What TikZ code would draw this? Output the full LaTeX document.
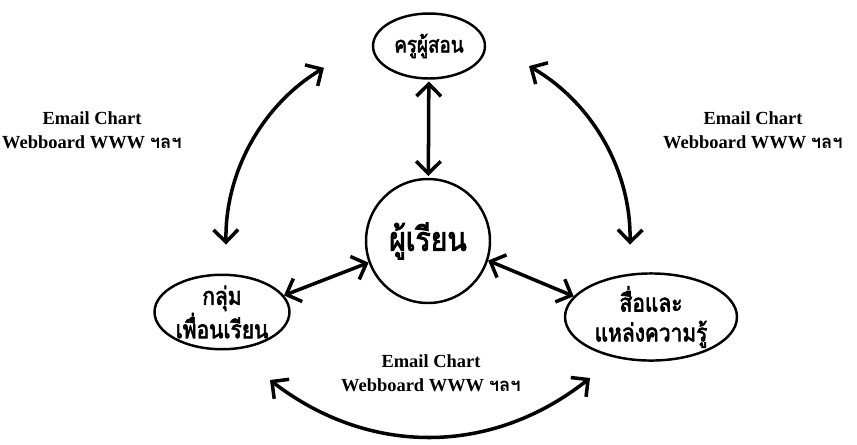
\documentclass[tikz,border=0pt]{standalone}
\usepackage{fontspec}
\setmainfont{Liberation Serif}
\newfontfamily\thaifont[Script=Thai, AutoFakeBold=2.5, FakeStretch=0.85]{Loma}
\newfontfamily\thaiplain[Script=Thai]{Loma}
\usetikzlibrary{shapes.geometric}
\usetikzlibrary{arrows.meta}

\tikzset{
  actor/.style={draw, line width=1.4pt, ellipse, inner sep=0pt, align=center,
    font=\thaifont\bfseries\fontsize{14}{17}\selectfont},
  dbl/.style={line width=2pt,
    {Straight Barb[length=7pt,width=14pt]}-{Straight Barb[length=7pt,width=14pt]}},
  medium/.style={align=center, font=\bfseries\fontsize{10.5}{13.6}\selectfont}
}

\begin{document}
\begin{tikzpicture}[x=0.02cm, y=0.02cm]
        \useasboundingbox (0,0) rectangle (857,444);

        \node[actor, minimum width=2.24cm, minimum height=1.3cm,
          font=\thaifont\bfseries\fontsize{12.6}{15}\selectfont] (teacher) at (429,398) {ครูผู้สอน};
        \node[actor, circle, minimum size=2.48cm,
          font=\thaifont\bfseries\fontsize{19}{22}\selectfont] (learner) at (428,203) {ผู้เรียน};
        \node[actor, minimum width=2.7cm, minimum height=1.4cm] (peers) at (222,132) {กลุ่ม\\เพื่อนเรียน};
        \node[actor, minimum width=3.44cm, minimum height=1.46cm] (resources) at (651,127) {สื่อและ\\แหล่งความรู้};

        \draw[dbl, shorten <=1pt, shorten >=1pt] (teacher) -- (learner);
        \draw[dbl] (peers.15) -- (learner.200);
        \draw[dbl] (learner.342) -- (resources.165);

        \draw[dbl] (learner.center) ++(121:202) arc[start angle=121, end angle=181, radius=202];
        \draw[dbl] (learner.center) ++(60:202) arc[start angle=60, end angle=-1, radius=202];

        \coordinate (bl) at (270,64);
        \coordinate (br) at (590,66);
        \draw[dbl] (bl) to[bend right=38] (br);

        \foreach \x/\y/\n in {92/314/left, 753/314/right, 431/71/bottom} {
            \node[medium] (mail\n) at (\x,\y) {Email Chart\\Webboard WWW {\thaiplain ฯลฯ}};
        }
    \end{tikzpicture}
\end{document}
